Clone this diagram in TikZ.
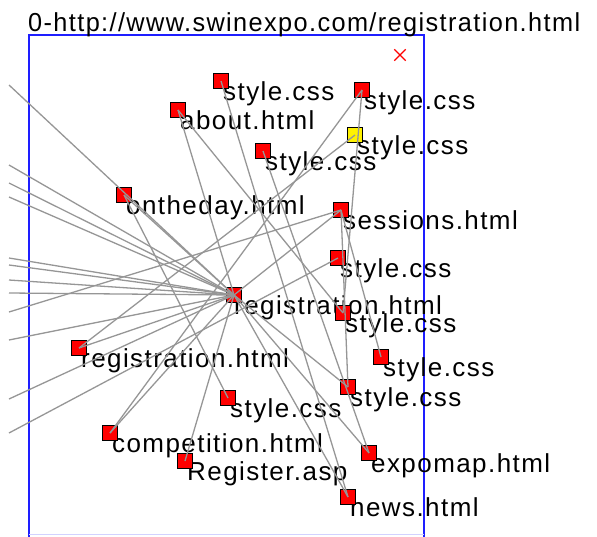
\documentclass[tikz,border=0pt]{standalone}
\usepackage{fontspec}
\usepackage{graphicx}
\setmainfont{Liberation Sans}[LetterSpace=5.5]
\usetikzlibrary{shapes.misc}
\definecolor{linkgray}{RGB}{150,150,150}
\definecolor{frameblue}{RGB}{30,30,255}

\tikzset{
  page/.style={draw=black, fill=red, line width=1.5pt, minimum size=15pt, inner sep=0pt},
  seen/.style={page, fill=yellow},
  lbl/.style={anchor=base west, inner sep=0pt, font=\fontsize{26}{28}\selectfont},
  link/.style={draw=linkgray, line width=1.3pt},
  frame/.style={draw=frameblue, line width=2.4pt}
}

\begin{document}
\begin{tikzpicture}[x=1pt, y=-1pt]
  \useasboundingbox (0,0) rectangle (597,536);

  % frame
  \draw[frame] (29,540) |- (424,35) -- (424,540);
  \draw[frame, draw=frameblue!20, line width=1pt] (29,534) -- (424,534);
  \node[cross out, draw=red, line width=1.3pt, minimum size=10pt, inner sep=0pt] (close) at (400,55) {};

  \node[lbl] (title) at (28,31) {\resizebox{552pt}{\height}{0-http://www.swinexpo.com/registration.html}};

  % labels
  \node[lbl] (tStyleA) at (223,100) {style.css};
  \node[lbl] (tAbout)  at (180,129) {about.html};
  \node[lbl] (tStyleB) at (265,170) {style.css};
  \node[lbl] (tOnday)  at (126,214) {ontheday.html};
  \node[lbl] (tStyleC) at (364,109) {style.css};
  \node[lbl] (tStyleY) at (357,154) {style.css};
  \node[lbl] (tSess)   at (343,229) {sessions.html};
  \node[lbl] (tStyleD) at (340,277) {style.css};
  \node[lbl] (tHub)    at (234,314) {registration.html};
  \node[lbl] (tStyleE) at (345,332) {style.css};
  \node[lbl] (tStyleF) at (383,376) {style.css};
  \node[lbl] (tStyleG) at (350,406) {style.css};
  \node[lbl] (tExpo)   at (371,472) {expomap.html};
  \node[lbl] (tNews)   at (350,516) {news.html};
  \node[lbl] (tRegL)   at (81,367)  {registration.html};
  \node[lbl] (tStyleH) at (230,417) {style.css};
  \node[lbl] (tComp)   at (112,452) {competition.html};
  \node[lbl] (tRegAsp) at (187,480) {Register.asp};

  % pages
  \node[page] (styleA) at (221,81)  {};
  \node[page] (about)  at (178,110) {};
  \node[page] (styleB) at (263,151) {};
  \node[page] (onday)  at (124,195) {};
  \node[page] (styleC) at (362,90)  {};
  \node[seen] (styleY) at (355,135) {};
  \node[page] (sess)   at (341,210) {};
  \node[page] (styleD) at (338,258) {};
  \node[page] (hub)    at (234,295) {};
  \node[page] (styleE) at (343,313) {};
  \node[page] (styleF) at (381,357) {};
  \node[page] (styleG) at (348,387) {};
  \node[page] (expo)   at (369,453) {};
  \node[page] (news)   at (348,497) {};
  \node[page] (regL)   at (79,348)  {};
  \node[page] (styleH) at (228,398) {};
  \node[page] (comp)   at (110,433) {};
  \node[page] (regAsp) at (185,461) {};

  % pages outside the frame
  \foreach \n/\y in {1/85, 2/165, 3/183, 4/197, 5/258, 6/265, 7/280, 8/293, 9/312, 10/340, 11/399, 12/433}
    \coordinate (out\n) at (9,\y);

  % links
  \foreach \n in {1,2,3,4,5,6,7,8,10,11}
    \draw[link] (out\n) -- (hub.center);
  \draw[link] (out9) -- (sess.center);
  \draw[link] (out12) -- (styleD.center);
  \foreach \p in {about, onday, sess, comp, regAsp, regL, expo, news, styleG}
    \draw[link] (hub.center) -- (\p.center);
  \draw[link] (onday.center) -- (styleH.center);
  \draw[link] (about.center) -- (styleE.center);
  \draw[link] (styleA.center) -- (news.center);
  \draw[link] (styleB.center) -- (expo.center);
  \draw[link] (styleC.center) -- (comp.center);
  \draw[link] (styleC.center) -- (styleE.center);
  \draw[link] (styleY.center) -- (regL.center);
  \draw[link] (sess.center) -- (styleF.center);
  \draw[link] (sess.center) -- (styleG.center);
\end{tikzpicture}
\end{document}
